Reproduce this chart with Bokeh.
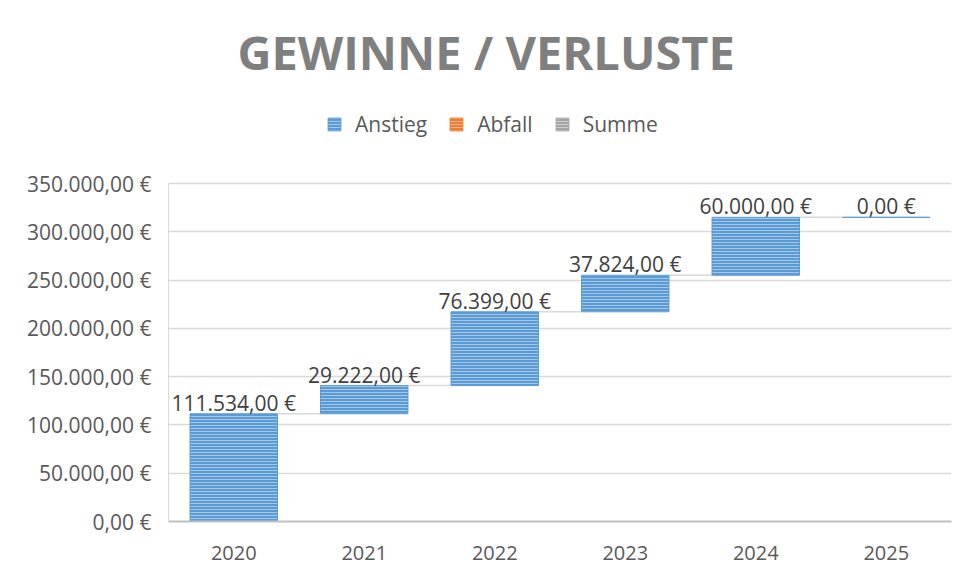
import numpy as np
from bokeh.plotting import figure
from bokeh.models import (FixedTicker, Legend, LegendItem, ColumnDataSource, Range1d)
from bokeh.core.properties import value
from bokeh.embed import file_html
from bokeh.resources import INLINE

# ---- data ----
years = ["2020", "2021", "2022", "2023", "2024", "2025"]
changes = [111534, 29222, 76399, 37824, 60000, 0]
y_ticks = [0, 50000, 100000, 150000, 200000, 250000, 300000, 350000]
y_tick_labels = ["0,00 €", "50.000,00 €", "100.000,00 €", "150.000,00 €",
                 "200.000,00 €", "250.000,00 €", "300.000,00 €", "350.000,00 €"]
legend_names = ["Anstieg", "Abfall", "Summe"]
title_text = "GEWINNE / VERLUSTE"

BLUE = "#5b9bd5"
ORANGE = "#ed7d31"
GRAY = "#a5a5a5"
FONT = "Open Sans"


def de_fmt(v):
    s = f"{v:,.2f}".replace(",", "X").replace(".", ",").replace("X", ".")
    return s + " €"


n = len(years)
xs = np.arange(n) + 0.5
tops = np.cumsum(changes)
bottoms = tops - np.array(changes)
BW = 0.67

# layout (pixels)
W, H = 956, 577
FRAME_TOP, AXIS_TOP, FRAME_BOTTOM = 100, 183, 521
y_max = y_ticks[-1] * (FRAME_BOTTOM - FRAME_TOP) / (FRAME_BOTTOM - AXIS_TOP)

p = figure(width=W, height=H, output_backend="svg", toolbar_location=None,
           x_range=Range1d(0, n), y_range=Range1d(0, y_max),
           min_border_left=168, min_border_right=5,
           min_border_bottom=H - FRAME_BOTTOM, min_border_top=FRAME_TOP)
p.outline_line_color = None

# title
p.title.text = title_text
p.title.align = "left"
p.title.offset = 69
p.title.standoff = 33
p.title.text_font = FONT
p.title.text_font_size = "47px"
p.title.text_font_style = "bold"
p.title.text_color = "#7f7f7f"

# grid
p.xgrid.grid_line_color = None
p.ygrid.ticker = FixedTicker(ticks=y_ticks)
p.ygrid.grid_line_color = "#d9d9d9"
p.ygrid.grid_line_width = 1.5

# axes
p.yaxis.ticker = FixedTicker(ticks=y_ticks)
p.yaxis.bounds = (y_ticks[0], y_ticks[-1])
p.yaxis.major_label_overrides = {t: l for t, l in zip(y_ticks, y_tick_labels)}
p.yaxis.major_label_text_font = FONT
p.yaxis.major_label_text_font_size = "21px"
p.yaxis.major_label_text_color = "#595959"
p.yaxis.major_tick_line_color = None
p.yaxis.minor_tick_line_color = None
p.yaxis.axis_line_color = "#d9d9d9"
p.yaxis.major_label_standoff = 11

p.xaxis.ticker = FixedTicker(ticks=list(xs))
p.xaxis.major_label_overrides = {float(x): y for x, y in zip(xs, years)}
p.xaxis.major_label_text_font = FONT
p.xaxis.major_label_text_font_size = "20px"
p.xaxis.major_label_text_color = "#595959"
p.xaxis.major_tick_line_color = None
p.xaxis.minor_tick_line_color = None
p.xaxis.axis_line_color = "#bfbfbf"
p.xaxis.axis_line_width = 2
p.xaxis.major_label_standoff = 18

# connectors
p.segment(x0=xs[:-1] + BW / 2, y0=tops[:-1], x1=xs[1:] - BW / 2, y1=tops[:-1],
          line_color="#d9d9d9", line_width=1.5)

src = ColumnDataSource(dict(x=xs, top=tops, bottom=bottoms,
                            label=[de_fmt(v) for v in changes]))
hatch = dict(hatch_pattern="horizontal_line", hatch_color="white",
             hatch_scale=3, hatch_weight=1, hatch_alpha=0.45)
r_up = p.vbar(x="x", top="top", bottom="bottom", width=BW, source=src,
              fill_color=BLUE, line_color=BLUE, line_width=1, **hatch)
empty = ColumnDataSource(dict(x=[0.5], top=[float("nan")], bottom=[float("nan")]))
r_down = p.vbar(x="x", top="top", bottom="bottom", width=BW, source=empty,
                fill_color=ORANGE, line_color=ORANGE, **hatch)
r_sum = p.vbar(x="x", top="top", bottom="bottom", width=BW, source=empty,
               fill_color=GRAY, line_color=GRAY, **hatch)

p.text(x="x", y="top", text="label", source=src, text_align="center",
       text_baseline="bottom", text_font=value(FONT), text_font_size="21px",
       text_color="#404040", y_offset=3)

legend = Legend(items=[LegendItem(label=legend_names[0], renderers=[r_up]),
                       LegendItem(label=legend_names[1], renderers=[r_down]),
                       LegendItem(label=legend_names[2], renderers=[r_sum])],
                orientation="horizontal", location=(158, 383),
                label_text_font=FONT, label_text_font_size="21px",
                label_text_color="#595959", glyph_width=16, glyph_height=16,
                label_standoff=13, spacing=21, border_line_color=None,
                background_fill_alpha=0, padding=5)
p.add_layout(legend, "center")

open("out.html", "w").write(file_html(p, INLINE))
